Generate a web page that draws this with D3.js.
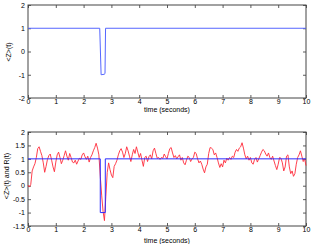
<!DOCTYPE html>
<html><head><meta charset="utf-8">
<script src="https://cdn.jsdelivr.net/npm/d3@7"></script>
<style>body{margin:0;background:#fff}svg{display:block}text{font-family:"Liberation Sans",Arial,sans-serif;}</style>
</head><body>
<svg id="c" width="313" height="244"></svg>
<script>
// ---- data ----
const xTicks = [0,1,2,3,4,5,6,7,8,9,10];
const yTicksTop = [-2,-1,0,1,2];
const yTicksBottom = [-1.5,-1,-0.5,0,0.5,1,1.5,2];
// ensemble average <Z>(t) (top panel)
const zAvgTime  = [0, 2.58, 2.63, 2.74, 2.77, 2.79, 10];
const zAvgValue = [1, 1, -1, -0.98, -0.95, 1, 1];
// <Z>(t) step (bottom panel)
const zStepTime  = [0, 2.6, 2.6, 2.78, 2.78, 10];
const zStepValue = [1, 1, -1, -1, 1, 1];
// R(t) sampled every 0.05 s
const rStep = 0.05;
const rValue = [
0.02,-0.05,0.05,0.55,0.70,0.82,1.05,1.38,1.45,1.28,
1.12,0.85,0.50,0.72,0.98,1.12,1.18,0.95,0.70,0.52,
0.88,1.15,1.25,1.05,0.82,0.95,1.12,1.30,1.10,0.95,
1.20,1.05,0.88,0.85,0.95,0.80,0.92,1.02,0.98,1.15,
1.22,1.08,0.98,1.10,0.88,1.05,1.15,1.30,1.42,1.58,
1.40,1.15,0.35,-0.35,-0.95,-1.30,-0.40,0.50,0.85,0.60,
0.40,0.30,0.72,0.82,0.95,1.15,1.30,1.38,1.25,1.05,
1.20,1.45,1.30,1.10,0.90,1.15,1.35,1.20,1.45,1.25,
1.05,1.20,0.95,0.72,1.05,1.10,0.90,1.08,1.15,1.00,
1.30,1.40,1.20,1.02,1.05,0.98,1.05,1.02,1.18,1.08,
1.00,1.20,1.38,1.42,1.22,1.05,1.12,1.00,1.08,1.15,
0.95,1.05,0.85,0.78,0.95,1.10,1.05,0.90,1.00,1.05,
1.25,1.20,1.00,0.85,0.92,0.80,0.62,0.48,0.70,0.80,
1.20,1.42,1.40,1.35,1.15,1.22,1.05,0.85,0.68,0.82,
0.70,0.95,0.85,1.02,0.95,1.05,0.98,1.10,1.05,1.25,
1.35,1.28,1.40,1.45,1.60,1.40,1.15,1.00,1.10,0.95,
1.05,0.85,0.80,0.98,1.05,0.88,1.00,1.12,1.25,1.35,
1.30,1.18,1.10,1.22,1.05,0.98,1.10,0.92,0.75,0.60,
0.80,1.05,1.02,0.85,0.55,0.70,1.10,1.15,0.70,0.45,
0.55,0.35,0.45,0.80,1.05,1.15,1.30,1.10,0.90,1.00,
0.75];

// ---- drawing ----
const svg = d3.select("#c");
const L = 28, R = 306;
const x = d3.scaleLinear().domain([0,10]).range([L,R]);

function panel(top, bottom, yDomain, yTicks, ylabel, ylabelX, ylabelY, xlabelY) {
  const y = d3.scaleLinear().domain(yDomain).range([bottom, top]);
  const g = svg.append("g");
  const tl = 3;
  g.append("g").attr("transform",`translate(0,${bottom})`)
    .call(d3.axisBottom(x).tickValues(xTicks).tickSizeInner(-tl).tickSizeOuter(0).tickPadding(1).tickFormat(d3.format("d")));
  g.append("g").attr("transform",`translate(0,${top})`)
    .call(d3.axisTop(x).tickValues(xTicks).tickSizeInner(-tl).tickSizeOuter(0).tickFormat(""));
  g.append("g").attr("transform",`translate(${L},0)`)
    .call(d3.axisLeft(y).tickValues(yTicks).tickSizeInner(-tl).tickSizeOuter(0).tickPadding(3).tickFormat(d=>String(d)));
  g.append("g").attr("transform",`translate(${R},0)`)
    .call(d3.axisRight(y).tickValues(yTicks).tickSizeInner(-tl).tickSizeOuter(0).tickFormat(""));
  g.selectAll(".domain").remove();
  g.selectAll(".tick line").attr("stroke","#333").attr("stroke-width",0.8);
  g.selectAll(".tick text").attr("font-size",7).attr("fill","#000");
  g.append("rect").attr("x",L).attr("y",top).attr("width",R-L).attr("height",bottom-top)
    .attr("fill","none").attr("stroke","#444").attr("stroke-width",1);
  g.append("text").attr("x",(L+R)/2).attr("y",xlabelY).attr("text-anchor","middle")
    .attr("font-size",7).text("time (seconds)");
  g.append("text").attr("transform",`translate(${ylabelX},${ylabelY}) rotate(-90)`)
    .attr("text-anchor","middle").attr("font-size",7).text(ylabel);
  return {g,y};
}

const p1 = panel(5, 98, [-2,2], yTicksTop, "<Z>(t)", 11, 52, 112);
const line1 = d3.line().x(d=>x(d[0])).y(d=>p1.y(d[1]));
p1.g.append("path").datum(zAvgTime.map((t,i)=>[t,zAvgValue[i]]))
  .attr("d",line1).attr("fill","none").attr("stroke","#5566ff").attr("stroke-width",1);

const p2 = panel(132, 226, [-1.5,2], yTicksBottom, "<Z>(t) and R(t)", 8.5, 176, 243);
const line2 = d3.line().x(d=>x(d[0])).y(d=>p2.y(d[1]));
p2.g.append("path").datum(rValue.map((v,i)=>[i*rStep,v]))
  .attr("d",line2).attr("fill","none").attr("stroke","#ff2a3a").attr("stroke-width",0.9);
p2.g.append("path").datum(zStepTime.map((t,i)=>[t,zStepValue[i]]))
  .attr("d",line2).attr("fill","none").attr("stroke","#2a2aff").attr("stroke-width",1);
</script>
</body></html>
